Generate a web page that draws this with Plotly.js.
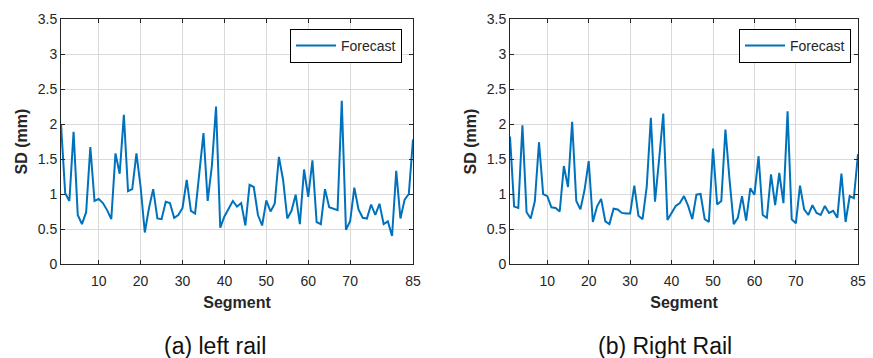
<!DOCTYPE html>
<html>
<head>
<meta charset="utf-8">
<script src="https://cdn.plot.ly/plotly-3.0.1.min.js"></script>
<style>html,body{margin:0;padding:0;background:#fff;}#chart{width:873px;height:358px;}</style>
</head>
<body>
<div id="chart"></div>
<script>
const segments = Array.from({length: 85}, (_, i) => i + 1);
const leftRail = [2.00,1.01,0.90,1.89,0.70,0.57,0.74,1.67,0.90,0.93,
  0.87,0.77,0.64,1.58,1.29,2.13,1.04,1.07,1.58,1.10,
  0.45,0.80,1.07,0.65,0.64,0.89,0.87,0.66,0.70,0.80,
  1.20,0.76,0.72,1.30,1.87,0.90,1.40,2.25,0.52,0.68,
  0.78,0.90,0.82,0.87,0.55,1.13,1.10,0.70,0.55,0.91,
  0.75,0.86,1.53,1.20,0.65,0.76,0.99,0.57,1.35,0.96,
  1.48,0.60,0.57,1.07,0.81,0.79,0.77,2.33,0.49,0.61,
  1.09,0.78,0.66,0.65,0.85,0.70,0.86,0.57,0.61,0.40,
  1.33,0.65,0.92,1.00,1.78];
const rightRail = [1.82,0.82,0.80,1.98,0.74,0.65,0.90,1.74,1.00,0.97,
  0.81,0.80,0.75,1.40,1.10,2.03,0.90,0.78,1.06,1.47,
  0.60,0.82,0.93,0.61,0.57,0.79,0.78,0.73,0.72,0.72,
  1.12,0.69,0.64,1.10,2.09,0.89,1.50,2.15,0.63,0.74,
  0.83,0.87,0.97,0.83,0.64,0.99,1.00,0.64,0.60,1.65,
  0.85,0.90,1.92,1.20,0.57,0.66,0.97,0.62,1.08,0.99,
  1.54,0.70,0.66,1.28,0.84,1.30,0.87,2.18,0.64,0.58,
  1.12,0.78,0.70,0.84,0.73,0.70,0.83,0.73,0.76,0.66,
  1.29,0.60,0.97,0.94,1.57];
const xTicks = [10,20,30,40,50,60,70,85];
const yTicks = [0,0.5,1,1.5,2,2.5,3,3.5];
const yTickText = ['0','0.5','1','1.5','2','2.5','3','3.5'];
const seriesName = 'Forecast';
const xTitle = 'Segment';
const yTitle = 'SD (mm)';
const captions = ['(a) left rail', '(b) Right Rail'];

const FONT = 'Liberation Sans, Arial, Helvetica, sans-serif';
const LINE = '#0072BD';
const W = 873, H = 358;

const traces = [
  {x: segments, y: leftRail, type: 'scatter', mode: 'lines', name: seriesName,
   line: {color: LINE, width: 2}, xaxis: 'x', yaxis: 'y', legend: 'legend'},
  {x: segments, y: rightRail, type: 'scatter', mode: 'lines', name: seriesName,
   line: {color: LINE, width: 2}, xaxis: 'x2', yaxis: 'y2', legend: 'legend2'}
];

function xa(domain, anchor) {
  return {domain: domain, anchor: anchor, range: [1, 85], tickmode: 'array', tickvals: xTicks,
    ticks: 'inside', ticklen: 4, tickcolor: '#262626', mirror: 'allticks', showline: true,
    linecolor: '#262626', linewidth: 1, showgrid: true, gridcolor: '#dadada', gridwidth: 1,
    zeroline: false, tickfont: {family: FONT, size: 14, color: '#262626'}, ticklabelstandoff: 4,
    title: {text: xTitle, font: {family: FONT, size: 16, color: '#262626', weight: 'bold'}, standoff: 9}};
}
function ya(domain, anchor) {
  return {domain: domain, anchor: anchor, range: [0, 3.5], tickmode: 'array', tickvals: yTicks, ticktext: yTickText,
    ticks: 'inside', ticklen: 4, tickcolor: '#262626', mirror: 'allticks', showline: true,
    linecolor: '#262626', linewidth: 1, showgrid: true, gridcolor: '#dadada', gridwidth: 1,
    zeroline: false, tickfont: {family: FONT, size: 14, color: '#262626'},
    title: {text: yTitle, font: {family: FONT, size: 16, color: '#262626', weight: 'bold'}, standoff: 6}};
}
const yDom = [(H - 264) / H, (H - 19) / H];
function leg(xr) {
  return {x: xr / W, y: (H - 29) / H, xanchor: 'right', yanchor: 'top', bgcolor: '#fff',
    bordercolor: '#000', borderwidth: 1, font: {family: FONT, size: 14, color: '#262626'},
    itemwidth: 40, tracegroupgap: 0};
}
const layout = {
  width: W, height: H, margin: {l: 0, r: 0, t: 0, b: 0},
  paper_bgcolor: '#fff', plot_bgcolor: '#fff', showlegend: true,
  xaxis: xa([61 / W, 413 / W], 'y'),
  yaxis: ya(yDom, 'x'),
  xaxis2: xa([510 / W, 858 / W], 'y2'),
  yaxis2: ya(yDom, 'x2'),
  legend: leg(402),
  legend2: leg(851),
  annotations: [
    {text: captions[0], x: 215 / W, y: (H - 346) / H, xref: 'paper', yref: 'paper', showarrow: false,
     xanchor: 'center', yanchor: 'middle', font: {family: FONT, size: 23, color: '#111'}},
    {text: captions[1], x: 665 / W, y: (H - 346) / H, xref: 'paper', yref: 'paper', showarrow: false,
     xanchor: 'center', yanchor: 'middle', font: {family: FONT, size: 23, color: '#111'}}
  ]
};
Plotly.newPlot('chart', traces, layout, {displayModeBar: false, staticPlot: true});
</script>
</body>
</html>
